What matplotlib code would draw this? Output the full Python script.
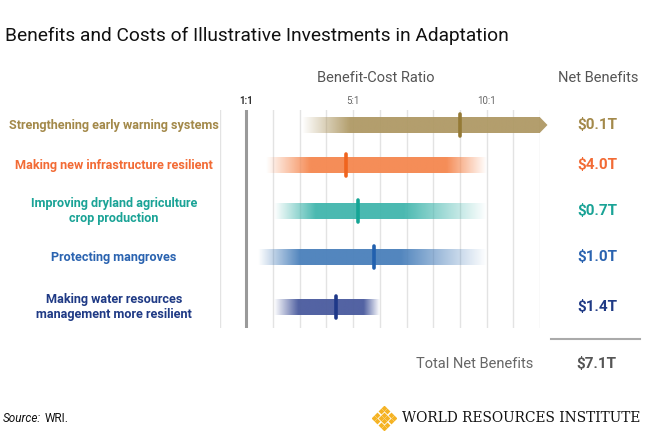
import numpy as np
import matplotlib
matplotlib.use("Agg")
import matplotlib.pyplot as plt
from matplotlib.patches import Polygon

W, H = 648, 436

categories = [
    "Strengthening early warning systems",
    "Making new infrastructure resilient",
    "Improving dryland agriculture\ncrop production",
    "Protecting mangroves",
    "Making water resources\nmanagement more resilient",
]
net_benefits = ["$0.1T", "$4.0T", "$0.7T", "$1.0T", "$1.4T"]
total_net = "$7.1T"

# benefit-cost ratio range, central estimate and where the fades end
bcr_low = [3.1, 1.75, 2.05, 1.45, 2.05]
bcr_high = [12.0, 10.0, 10.0, 10.0, 6.0]
bcr_mid = [9.0, 4.75, 5.2, 5.8, 4.35]
solid_low = [4.9, 3.4, 3.6, 3.0, 2.95]
solid_high = [12.0, 8.5, 6.9, 6.8, 5.4]
open_ended = [True, False, False, False, False]

text_colors = ["#A3894A", "#F26B35", "#1AA396", "#2A63B0", "#1F3A85"]
bar_colors = ["#AF9965", "#F5874F", "#41B6AD", "#4A80BB", "#4A5B9E"]
mark_colors = ["#957A35", "#F0641E", "#15A595", "#2160AE", "#1E3888"]
row_y = [125, 165, 211, 257, 307]  # pixel rows

FONT = ["Roboto", "DejaVu Sans"]


def fx(x):
    return x / W


def fy(y):
    return 1 - y / H


fig = plt.figure(figsize=(W / 100, H / 100), dpi=100)

# axes: x in ratio units, y in pixel rows
x0, x12 = 219.6, 540.0
top, bottom = 110, 328
ax = fig.add_axes([fx(x0), fy(bottom), fx(x12 - x0), (bottom - top) / H])
ax.set_xlim(0, 12)
ax.set_ylim(bottom, top)
ax.axis("off")

for g in range(13):
    if g == 1:
        ax.axvline(g, color="#9A9A9A", lw=2.2, zorder=3)
    else:
        ax.axvline(g, color="#E3E3E3", lw=1.0, zorder=1)

half = 8
for i in range(len(categories)):
    lo, hi = bcr_low[i], bcr_high[i]
    xs = np.linspace(lo, hi, 400)
    alpha = np.ones_like(xs)
    if solid_low[i] > lo:
        alpha = np.minimum(alpha, np.clip((xs - lo) / (solid_low[i] - lo), 0, 1))
    if solid_high[i] < hi:
        alpha = np.minimum(alpha, np.clip((hi - xs) / (hi - solid_high[i]), 0, 1))
    rgb = matplotlib.colors.to_rgb(bar_colors[i])
    img = np.zeros((1, len(xs), 4))
    img[0, :, :3] = rgb
    img[0, :, 3] = alpha * 0.95
    y = row_y[i]
    ax.imshow(img, extent=(lo, hi, y + half, y - half), aspect="auto",
              interpolation="bilinear", zorder=2)
    if open_ended[i]:
        ax.add_patch(Polygon([(hi - 0.01, y - half), (hi + 0.28, y), (hi - 0.01, y + half)],
                             closed=True, color=bar_colors[i], alpha=0.95, lw=0,
                             zorder=2, clip_on=False))
    ax.plot([bcr_mid[i], bcr_mid[i]], [y - 11, y + 11], color=mark_colors[i],
            lw=2.6, solid_capstyle="round", zorder=4)

    fig.text(fx(114), fy(y), categories[i], color=text_colors[i], fontsize=9.1,
             fontweight="bold", family=FONT, ha="center", va="center",
             linespacing=1.15)
    fig.text(fx(597), fy(y), net_benefits[i], color=text_colors[i], fontsize=11,
             fontweight="bold", family=FONT, ha="center", va="center")

# headers and ratio labels
fig.text(fx(376), fy(78), "Benefit-Cost Ratio", color="#555555", fontsize=10.5,
         family=FONT, ha="center", va="center")
fig.text(fx(598), fy(78), "Net Benefits", color="#555555", fontsize=10.5,
         family=FONT, ha="center", va="center")
for r, lab in zip([1, 5, 10], ["1:1", "5:1", "10:1"]):
    xp = x0 + r * (x12 - x0) / 12
    fig.text(fx(xp), fy(101), lab, color="#333333" if r == 1 else "#666666",
             fontsize=7, fontweight="bold" if r == 1 else "normal",
             family=FONT, ha="center", va="center")

# total
fig.add_artist(plt.Line2D([fx(551), fx(640)], [fy(339), fy(339)],
                          color="#AAAAAA", lw=1.5))
fig.text(fx(475), fy(364), "Total Net Benefits", color="#666666", fontsize=10.5,
         family=FONT, ha="center", va="center")
fig.text(fx(596), fy(364), total_net, color="#555555", fontsize=11,
         fontweight="bold", family=FONT, ha="center", va="center")

# title and footer
fig.text(fx(5), fy(36), "Benefits and Costs of Illustrative Investments in Adaptation",
         fontsize=13.8, family=FONT, color="#111111", ha="left", va="center")
src = fig.text(fx(3), fy(418), "Source:", fontsize=8.5, style="italic", family=FONT,
               color="#111111", ha="left", va="center")
fig.canvas.draw()
bb = src.get_window_extent()
fig.text((bb.x1 + 3) / W, fy(418), "WRI.", fontsize=8.5, family=FONT,
         color="#111111", ha="left", va="center")

# logo
lax = fig.add_axes([fx(372), fy(430), fx(24), 24 / H])
lax.set_xlim(-3.6, 3.6)
lax.set_ylim(-3.6, 3.6)
lax.axis("off")
pts = [(i - j, i + j - 3) for i in range(4) for j in range(4)]
lax.scatter([p[0] for p in pts], [p[1] for p in pts], marker="D", s=9,
            color="#F5B324", lw=0)
fig.text(fx(402), fy(418), "WORLD RESOURCES INSTITUTE", fontsize=9.9,
         family=["DejaVu Serif"], color="#111111", ha="left", va="center")

fig.savefig("out.png", dpi=100)
